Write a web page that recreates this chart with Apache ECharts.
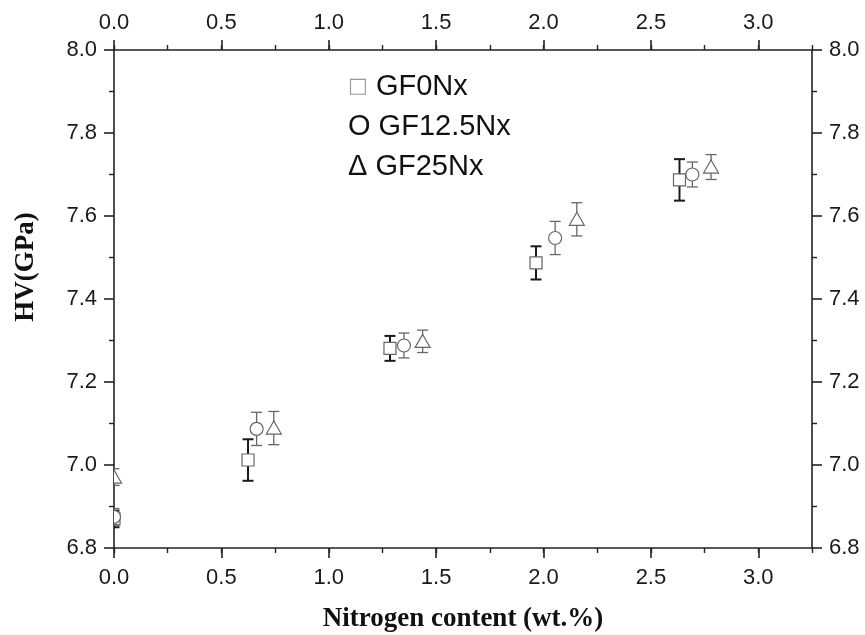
<!DOCTYPE html>
<html>
<head>
<meta charset="utf-8">
<script src="https://cdn.jsdelivr.net/npm/echarts@6/dist/echarts.min.js"></script>
<style>
  html, body { margin: 0; padding: 0; background: #fff; }
  #main { width: 865px; height: 635px; }
</style>
</head>
<body>
<div id="main"></div>
<script>
var chart = echarts.init(document.getElementById('main'));

// data: N content (wt.%), HV (GPa), error (+/-)
var seriesNames = ['GF0Nx', 'GF12.5Nx', 'GF25Nx'];
var legendMarks = ['□', 'O', 'Δ'];

var x0 = [0, 0.624, 1.285, 1.965, 2.633];
var hv0 = [6.87, 7.012, 7.281, 7.487, 7.687];
var err0 = [0.02, 0.05, 0.03, 0.04, 0.05];

var x12 = [0, 0.664, 1.350, 2.054, 2.693];
var hv12 = [6.875, 7.087, 7.288, 7.547, 7.700];
var err12 = [0.02, 0.04, 0.03, 0.04, 0.03];

var x25 = [0, 0.744, 1.437, 2.155, 2.780];
var hv25 = [6.971, 7.089, 7.298, 7.592, 7.718];
var err25 = [0.02, 0.04, 0.027, 0.04, 0.03];

var xMin = 0, xMax = 3.25, xStep = 0.5;
var yMin = 6.8, yMax = 8.0, yStep = 0.2;

function pack(xs, ys, es) {
    return xs.map(function (x, i) { return [x, ys[i], es[i]]; });
}

var tickFont = 'Liberation Sans, Arial, sans-serif';
var nameFont = 'Liberation Serif, Times New Roman, serif';
var lineCol = '#222';

// error bar + hollow marker, clipped to the plot box
function makeRender(kind, barColor, barWidth) {
    return function (params, api) {
        var x = api.value(0), y = api.value(1), e = api.value(2);
        var c = api.coord([x, y]);
        var t = api.coord([x, y + e]);
        var b = api.coord([x, y - e]);
        var hw = 5.5;
        var barStyle = { stroke: barColor, lineWidth: barWidth };
        var mk = { fill: '#fff', stroke: '#666', lineWidth: 1.2 };
        var marker;
        if (kind === 'square') {
            marker = { type: 'rect', shape: { x: c[0] - 6, y: c[1] - 6, width: 12, height: 12 }, style: mk };
        } else if (kind === 'circle') {
            marker = { type: 'circle', shape: { cx: c[0], cy: c[1], r: 6.5 }, style: mk };
        } else {
            marker = { type: 'polygon', shape: { points: [[c[0], c[1] - 7], [c[0] - 7.5, c[1] + 6], [c[0] + 7.5, c[1] + 6]] }, style: mk };
        }
        return {
            type: 'group',
            children: [
                { type: 'line', shape: { x1: c[0], y1: t[1], x2: c[0], y2: b[1] }, style: barStyle },
                { type: 'line', shape: { x1: c[0] - hw, y1: t[1], x2: c[0] + hw, y2: t[1] }, style: barStyle },
                { type: 'line', shape: { x1: c[0] - hw, y1: b[1], x2: c[0] + hw, y2: b[1] }, style: barStyle },
                marker
            ]
        };
    };
}

function xAxisMajor(pos, withName) {
    return {
        type: 'value', position: pos, min: xMin, max: xMax, interval: xStep,
        name: withName ? 'Nitrogen content (wt.%)' : '',
        nameLocation: 'middle', nameGap: 58,
        nameTextStyle: { fontFamily: nameFont, fontWeight: 'bold', fontSize: 27, color: '#111' },
        axisLine: { show: true, onZero: false, lineStyle: { color: lineCol, width: 1.6 } },
        axisTick: { show: true, inside: false, length: 10, lineStyle: { color: lineCol, width: 1.6 } },
        axisLabel: {
            show: true, margin: pos === 'bottom' ? 19 : 16, fontSize: 22, fontFamily: tickFont, color: '#1a1a1a',
            showMaxLabel: false,
            formatter: function (v) { return v.toFixed(1); }
        },
        splitLine: { show: false }
    };
}

function xAxisMinor(pos) {
    return {
        type: 'value', position: pos, min: xMin, max: xMax, interval: xStep / 2,
        axisLine: { show: false, onZero: false },
        axisTick: { show: true, inside: false, length: 5, lineStyle: { color: lineCol, width: 1.4 } },
        axisLabel: { show: false },
        splitLine: { show: false }
    };
}

function yAxis(pos, withName) {
    return {
        type: 'value', position: pos, min: yMin, max: yMax, interval: yStep,
        name: withName ? 'HV(GPa)' : '',
        nameLocation: 'middle', nameGap: 74,
        nameTextStyle: { fontFamily: nameFont, fontWeight: 'bold', fontSize: 27, color: '#111', padding: [0, 0, 0, 64] },
        axisLine: { show: true, onZero: false, lineStyle: { color: lineCol, width: 1.6 } },
        axisTick: { show: true, inside: false, length: 10, lineStyle: { color: lineCol, width: 1.6 } },
        minorTick: { show: true, splitNumber: 2, length: 5, lineStyle: { color: lineCol, width: 1.4 } },
        axisLabel: {
            show: true, margin: 17, fontSize: 22, fontFamily: tickFont, color: '#1a1a1a',
            formatter: function (v) { return v.toFixed(1); }
        },
        splitLine: { show: false },
        minorSplitLine: { show: false }
    };
}

var option = {
    animation: false,
    backgroundColor: '#fff',
    grid: { left: 114, right: 53, top: 50, bottom: 87, outerBoundsMode: 'none', containLabel: false },
    legend: {
        data: seriesNames,
        orient: 'vertical',
        left: 338,
        top: 67,
        icon: 'none',
        itemWidth: 0,
        itemHeight: 0,
        itemGap: 11,
        selectedMode: false,
        formatter: function (name) {
            var m = legendMarks[seriesNames.indexOf(name)];
            return (m === '□' ? '{sq|' + m + '}' : '{mk|' + m + '}') + ' ' + name;
        },
        textStyle: {
            fontFamily: tickFont, fontSize: 29, lineHeight: 28, color: '#111',
            rich: {
                sq: { fontFamily: 'DejaVu Sans', fontSize: 21, lineHeight: 28, color: '#999' },
                mk: { fontFamily: tickFont, fontSize: 29, lineHeight: 28, color: '#111' }
            }
        }
    },
    xAxis: [xAxisMajor('bottom', true), xAxisMinor('bottom'), xAxisMajor('top', false), xAxisMinor('top')],
    yAxis: [yAxis('left', true), yAxis('right', false)],
    series: [
        { name: seriesNames[0], type: 'custom', clip: true, xAxisIndex: 0, yAxisIndex: 0, z: 3,
          encode: { x: 0, y: 1 }, renderItem: makeRender('square', '#1a1a1a', 2), data: pack(x0, hv0, err0) },
        { name: seriesNames[1], type: 'custom', clip: true, xAxisIndex: 0, yAxisIndex: 0, z: 3,
          encode: { x: 0, y: 1 }, renderItem: makeRender('circle', '#666', 1.3), data: pack(x12, hv12, err12) },
        { name: seriesNames[2], type: 'custom', clip: true, xAxisIndex: 0, yAxisIndex: 0, z: 3,
          encode: { x: 0, y: 1 }, renderItem: makeRender('triangle', '#666', 1.3), data: pack(x25, hv25, err25) }
    ]
};

chart.setOption(option);
</script>
</body>
</html>
